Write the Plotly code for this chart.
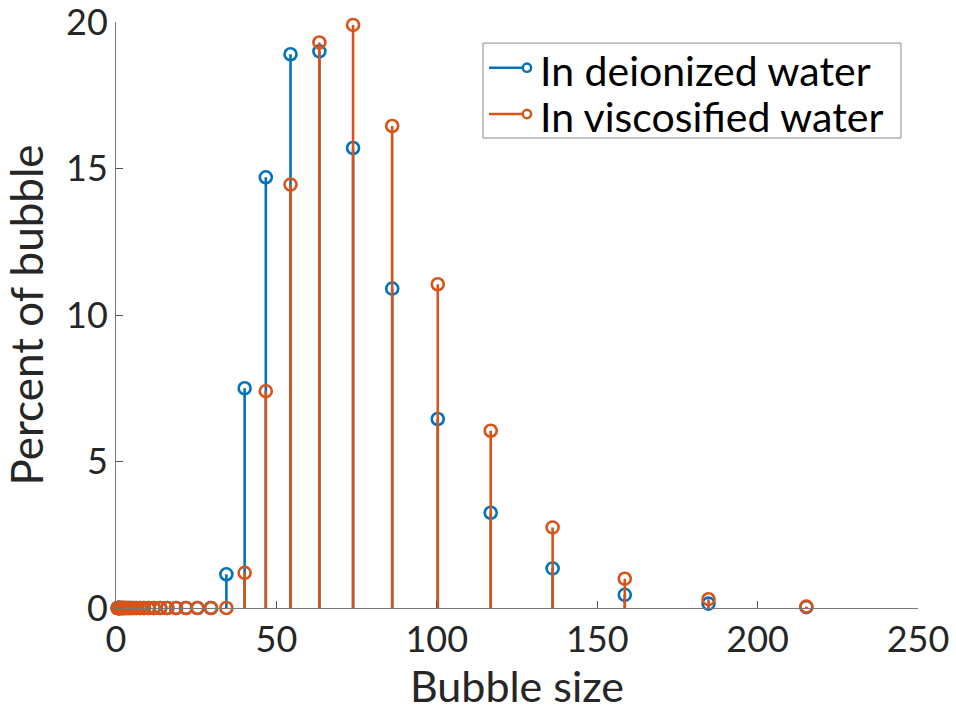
import plotly.graph_objects as go

bubble_size = [0.5, 0.6, 0.7, 0.8, 0.9, 1.0, 1.2, 1.4, 1.6, 1.9, 2.2, 2.6, 3.0, 3.5,
               4.1, 4.7, 5.5, 6.4, 7.5, 8.7, 10.1, 11.8, 13.8, 16.0, 18.7, 21.8, 25.4,
               29.6, 34.4, 40.1, 46.7, 54.4, 63.4, 73.9, 86.1, 100.3, 116.8, 136.1,
               158.6, 184.7, 215.2]

deionized = [0, 0, 0, 0, 0, 0, 0, 0, 0, 0, 0, 0, 0, 0,
             0, 0, 0, 0, 0, 0, 0, 0, 0, 0, 0, 0, 0,
             0, 1.15, 7.5, 14.7, 18.9, 19.0, 15.7, 10.9, 6.45, 3.25, 1.35,
             0.45, 0.15, 0.03]

viscosified = [0, 0, 0, 0, 0, 0, 0, 0, 0, 0, 0, 0, 0, 0,
               0, 0, 0, 0, 0, 0, 0, 0, 0, 0, 0, 0, 0,
               0, 0, 1.2, 7.4, 14.45, 19.3, 19.9, 16.45, 11.05, 6.05, 2.75,
               1.0, 0.3, 0.05]

series_names = ["In deionized water", "In viscosified water"]
x_ticks = [0, 50, 100, 150, 200, 250]
y_ticks = [0, 5, 10, 15, 20]

colors = ["#0072BD", "#D95319"]
FONT = "Lato"
TXT = "#262626"

fig = go.Figure()


def stems(xs, ys):
    sx, sy = [], []
    for xv, yv in zip(xs, ys):
        sx += [xv, xv, None]
        sy += [0, yv, None]
    return sx, sy


for vals, col, name in zip([deionized, viscosified], colors, series_names):
    sx, sy = stems(bubble_size, vals)
    fig.add_trace(go.Scatter(x=sx, y=sy, mode="lines",
                             line=dict(color=col, width=2.6),
                             showlegend=False, hoverinfo="skip", cliponaxis=False))
    fig.add_trace(go.Scatter(x=bubble_size, y=vals, mode="markers",
                             marker=dict(symbol="circle-open", size=12, color=col,
                                         line=dict(width=2.6, color=col)),
                             showlegend=False, cliponaxis=False, name=name))

# --- MATLAB-style legend (box, line with marker at its end, text) ---
shapes = [dict(type="rect", xref="paper", yref="paper", x0=0.4576, x1=0.9788,
               y0=0.802, y1=0.964, line=dict(color="#8a8a8a", width=1),
               fillcolor="white", layer="above")]
annotations = []
entry_y = [0.922, 0.843]
for col, name, ey in zip(colors, series_names, entry_y):
    shapes.append(dict(type="line", xref="paper", yref="paper", x0=0.4651, x1=0.5124,
                       y0=ey, y1=ey, line=dict(color=col, width=2.6), layer="above"))
    shapes.append(dict(type="circle", xref="paper", yref="paper",
                       xsizemode="pixel", ysizemode="pixel",
                       xanchor=0.5124, yanchor=ey, x0=-4.2, x1=4.2, y0=-4.2, y1=4.2,
                       line=dict(color=col, width=2.4), fillcolor="white", layer="above"))
    annotations.append(dict(xref="paper", yref="paper", x=0.5262, y=ey - 0.004,
                            xanchor="left", yanchor="middle", showarrow=False,
                            text=name, font=dict(family=FONT, size=41, color="black")))

fig.update_layout(
    width=956, height=715,
    margin=dict(l=116, r=38, t=22, b=107),
    paper_bgcolor="white", plot_bgcolor="white",
    font=dict(family=FONT, size=36, color=TXT),
    showlegend=False,
    shapes=shapes, annotations=annotations,
)

fig.update_xaxes(range=[0, 250], tickvals=x_ticks, ticks="inside", ticklen=7,
                 tickcolor="#555", tickwidth=1, showline=True, linecolor="#777",
                 linewidth=1, showgrid=False, zeroline=False, automargin=False,
                 ticklabeloverflow="allow",
                 tickfont=dict(family=FONT, size=36, color=TXT),
                 title=dict(text="Bubble size", font=dict(family=FONT, size=43, color=TXT),
                            standoff=4))
fig.update_yaxes(range=[0, 20], tickvals=y_ticks, ticks="inside", ticklen=7,
                 tickcolor="#555", tickwidth=1, showline=True, linecolor="#777",
                 linewidth=1, showgrid=False, zeroline=False, automargin=False,
                 ticklabeloverflow="allow",
                 tickfont=dict(family=FONT, size=36, color=TXT),
                 title=dict(text="Percent of bubble", font=dict(family=FONT, size=44, color=TXT),
                            standoff=14))

fig.write_html("out.html", config={"displayModeBar": False},
               post_script="document.body.style.margin='0';")
